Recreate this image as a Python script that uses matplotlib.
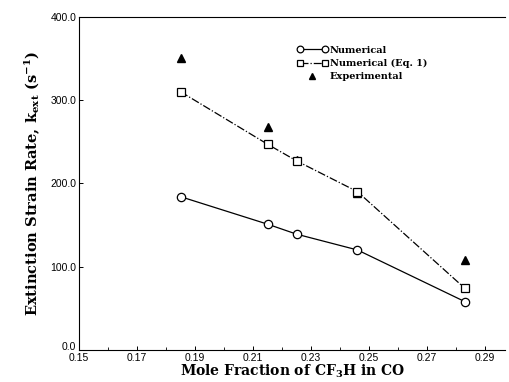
import matplotlib
matplotlib.use("Agg")
import matplotlib.pyplot as plt
import matplotlib.transforms as mtransforms
from matplotlib.ticker import MultipleLocator
from matplotlib.legend_handler import HandlerLine2D

plt.rcParams['mathtext.fontset'] = 'custom'
plt.rcParams['mathtext.rm'] = 'DejaVu Serif:bold'
plt.rcParams['mathtext.default'] = 'rm'

# data
x_num = [0.185, 0.215, 0.225, 0.246, 0.283]
k_num = [184, 151, 139, 120, 58]
k_eq1 = [310, 247, 227, 190, 74]
x_exp = [0.185, 0.215, 0.225, 0.246, 0.283]
k_exp = [351, 268, 228, 189, 108]

xticks = [0.15, 0.17, 0.19, 0.21, 0.23, 0.25, 0.27, 0.29]
yticks = [0, 100, 200, 300, 400]

fig = plt.figure(figsize=(5.1, 3.82), dpi=100)
ax = fig.add_axes([0.155, 0.084, 0.836, 0.872])

l1, = ax.plot(x_num, k_num, '-', color='black', lw=0.9, marker='o', ms=6,
              mfc='white', mec='black', mew=0.9, label='Numerical')
l2, = ax.plot(x_num, k_eq1, '-.', color='black', lw=0.9, marker='s', ms=5.5,
              mfc='white', mec='black', mew=0.9, label='Numerical (Eq. 1)')
l3, = ax.plot(x_exp, k_exp, '^', color='black', ms=6, label='Experimental',
              zorder=1)

ax.set_xlim(0.15, 0.297)
ax.set_ylim(0, 400)
ax.set_xticks(xticks)
ax.set_xticklabels([f"{t:.2f}" for t in xticks])
ax.set_yticks(yticks)
ax.set_yticklabels([f"{t:.1f}" for t in yticks])
ax.xaxis.set_minor_locator(MultipleLocator(0.01))
ax.tick_params(direction='in', labelsize=7.5, length=3, width=0.7, pad=2)
ax.tick_params(which='minor', direction='in', length=2, width=0.6)
for lab in ax.get_xticklabels() + ax.get_yticklabels():
    lab.set_family('Liberation Sans')
# lift the "0.0" label a little so it sits above "0.15" like in the original
zero = ax.get_yticklabels()[0]
zero.set_transform(zero.get_transform() +
                   mtransforms.ScaledTranslation(0, 3 / 72, fig.dpi_scale_trans))

ax.spines['right'].set_visible(False)
for s in ['left', 'bottom', 'top']:
    ax.spines[s].set_linewidth(0.8)

ax.set_xlabel('Mole Fraction of CF$_3$H in CO', family='DejaVu Serif',
              fontweight='bold', fontsize=10, labelpad=0)
ax.set_ylabel('Extinction Strain Rate, k$_{ext}$ (s$^{-1}$)',
              family='DejaVu Serif', fontweight='bold', fontsize=10.5,
              labelpad=6)

leg = ax.legend(loc='upper left', bbox_to_anchor=(0.49, 0.94), frameon=False,
                prop={'family': 'DejaVu Serif', 'weight': 'bold', 'size': 7},
                handlelength=3.2, handletextpad=0.2, labelspacing=0.45,
                markerscale=0.8,
                handler_map={l1: HandlerLine2D(numpoints=2),
                             l2: HandlerLine2D(numpoints=2)})

fig.savefig('out.png', dpi=100)
